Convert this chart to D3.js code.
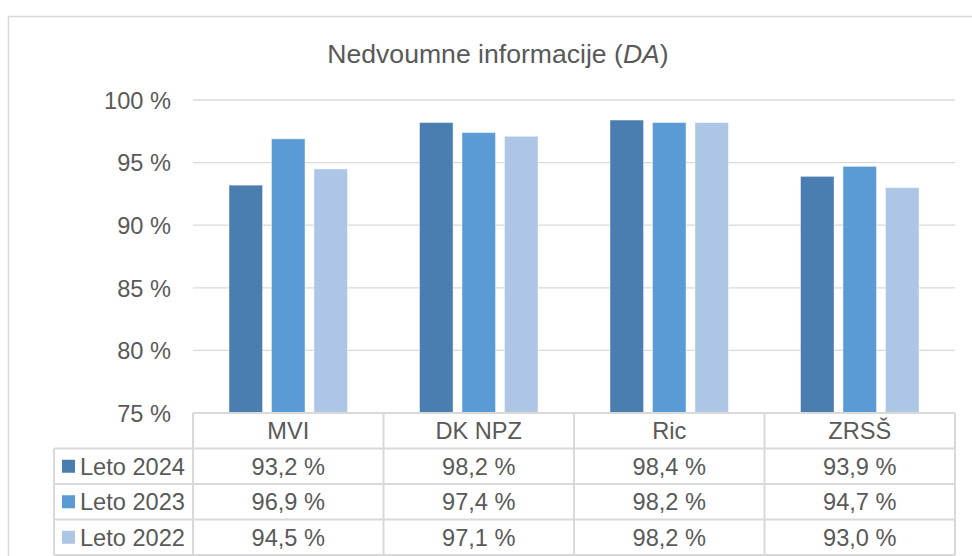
<!DOCTYPE html>
<html>
<head>
<meta charset="utf-8">
<script src="https://cdn.jsdelivr.net/npm/d3@7"></script>
<style>
  body { margin: 0; background: #fff; }
  text { font-family: Arial, "Liberation Sans", sans-serif; fill: #595959; }
</style>
</head>
<body>
<div id="chart"></div>
<script>
// data
var categories = ["MVI", "DK NPZ", "Ric", "ZRSŠ"];
var seriesNames = ["Leto 2024", "Leto 2023", "Leto 2022"];
var leto2024 = [93.2, 98.2, 98.4, 93.9];
var leto2023 = [96.9, 97.4, 98.2, 94.7];
var leto2022 = [94.5, 97.1, 98.2, 93.0];
var yTicks = [75, 80, 85, 90, 95, 100];
var colors = ["#4a7eb0", "#5b9bd5", "#adc6e5"];

var seriesValues = [leto2024, leto2023, leto2022];

var width = 972, height = 556;
var margin = {top: 100, left: 193, right: 17, bottom: 143};
var fs = "23.6px";

var svg = d3.select("#chart")
  .append("svg")
    .attr("width", width)
    .attr("height", height);

// outer frame
svg.append("rect")
  .attr("x", 8.5).attr("y", 16.5)
  .attr("width", 1000).attr("height", 600)
  .attr("fill", "none")
  .attr("stroke", "#d9d9d9")
  .attr("stroke-width", 1.5);

// title
var title = svg.append("text")
  .attr("x", 498).attr("y", 63)
  .attr("text-anchor", "middle")
  .style("font-size", "26.6px");
title.append("tspan").text("Nedvoumne informacije (");
title.append("tspan").style("font-style", "italic").text("DA");
title.append("tspan").text(")");

var plotRight = width - margin.right;
var plotBottom = height - margin.bottom;

var x0 = d3.scaleBand()
  .domain(categories)
  .range([margin.left, plotRight]);

var x1 = d3.scaleBand()
  .domain(seriesNames)
  .range([36, x0.bandwidth() - 36])
  .paddingInner(0.21);

var y = d3.scaleLinear()
  .domain([75, 100])
  .range([plotBottom, margin.top]);

// gridlines
svg.append("g")
  .selectAll("line")
  .data(yTicks.slice(1))
  .enter()
  .append("line")
    .attr("x1", margin.left).attr("x2", plotRight)
    .attr("y1", function (d) { return y(d); })
    .attr("y2", function (d) { return y(d); })
    .attr("stroke", "#d9d9d9")
    .attr("stroke-width", 1.3);

// y axis labels
var yAxis = d3.axisLeft(y)
  .tickValues(yTicks)
  .tickSize(0)
  .tickPadding(22)
  .tickFormat(function (d) { return d + " %"; });
var ga = svg.append("g")
  .attr("transform", "translate(" + margin.left + ",0)")
  .call(yAxis);
ga.select(".domain").remove();
ga.selectAll("text")
  .style("font-size", fs)
  .attr("fill", "#595959")
  .attr("dy", "0.35em");

// bars
var groups = svg.append("g")
  .selectAll("g")
  .data(categories)
  .enter()
  .append("g")
    .attr("transform", function (d) { return "translate(" + x0(d) + ",0)"; });

groups.selectAll("rect")
  .data(function (d, i) {
    return seriesNames.map(function (s, j) { return {s: s, j: j, v: seriesValues[j][i]}; });
  })
  .enter()
  .append("rect")
    .attr("x", function (d) { return x1(d.s); })
    .attr("width", x1.bandwidth())
    .attr("y", function (d) { return y(d.v); })
    .attr("height", function (d) { return plotBottom - y(d.v); })
    .attr("fill", function (d) { return colors[d.j]; })
    .attr("stroke", "#ffffff")
    .attr("stroke-opacity", 0.45)
    .attr("stroke-width", 1);

// data table
var rowH = 35.5;
var tableLeft = 54;
var lineColor = "#d9d9d9";
var table = svg.append("g");

// horizontal lines
table.append("line")
  .attr("x1", margin.left).attr("x2", plotRight)
  .attr("y1", plotBottom).attr("y2", plotBottom)
  .attr("stroke", lineColor).attr("stroke-width", 2);
for (var r = 1; r <= 4; r++) {
  table.append("line")
    .attr("x1", tableLeft).attr("x2", plotRight)
    .attr("y1", plotBottom + r * rowH).attr("y2", plotBottom + r * rowH)
    .attr("stroke", lineColor).attr("stroke-width", 2);
}
// vertical lines
table.append("line")
  .attr("x1", tableLeft).attr("x2", tableLeft)
  .attr("y1", plotBottom + rowH).attr("y2", plotBottom + 4 * rowH)
  .attr("stroke", lineColor).attr("stroke-width", 2);
categories.concat(["_end"]).forEach(function (c, i) {
  var xx = i < categories.length ? x0(c) : plotRight;
  table.append("line")
    .attr("x1", xx).attr("x2", xx)
    .attr("y1", plotBottom).attr("y2", plotBottom + 4 * rowH)
    .attr("stroke", lineColor).attr("stroke-width", 2);
});

// header row
table.selectAll(".cat")
  .data(categories)
  .enter()
  .append("text")
    .attr("class", "cat")
    .attr("x", function (d) { return x0(d) + x0.bandwidth() / 2; })
    .attr("y", plotBottom + rowH / 2)
    .attr("dy", "0.35em")
    .attr("text-anchor", "middle")
    .style("font-size", fs)
    .text(function (d) { return d; });

// series rows
seriesNames.forEach(function (s, j) {
  var cy = plotBottom + (j + 1) * rowH + rowH / 2;
  table.append("rect")
    .attr("x", 62).attr("y", cy - 6.5)
    .attr("width", 13).attr("height", 13)
    .attr("fill", colors[j]);
  table.append("text")
    .attr("x", 80).attr("y", cy)
    .attr("dy", "0.35em")
    .style("font-size", fs)
    .text(s);
  table.selectAll(".v" + j)
    .data(seriesValues[j])
    .enter()
    .append("text")
      .attr("x", function (d, i) { return x0(categories[i]) + x0.bandwidth() / 2; })
      .attr("y", cy)
      .attr("dy", "0.35em")
      .attr("text-anchor", "middle")
      .style("font-size", fs)
      .text(function (d) { return d.toFixed(1).replace(".", ",") + " %"; });
});
</script>
</body>
</html>
